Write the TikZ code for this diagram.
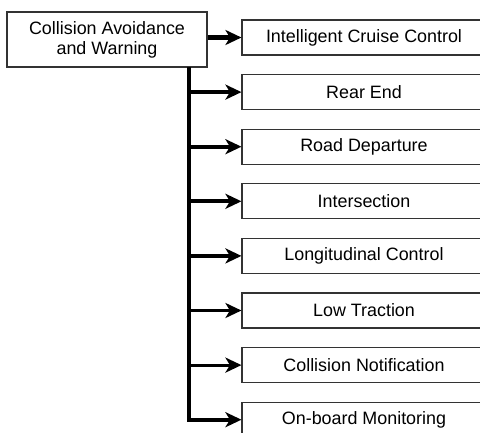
\documentclass[tikz,border=0pt]{standalone}
\usepackage{fontspec}
\setmainfont{Liberation Sans}
\usetikzlibrary{arrows.meta}
\begin{document}
\begin{tikzpicture}[x=1pt,y=-1pt,
  box/.style={draw=black!80, line width=1.1pt, fill=white, minimum width=244pt, minimum height=35pt, inner sep=0pt, font=\fontsize{17.9}{20}\selectfont},
  mainbox/.style={draw=black!80, line width=1.1pt, fill=white, minimum width=200pt, minimum height=55pt, inner sep=0pt, align=center, font=\fontsize{17.9}{20}\selectfont},
  thick arrow/.style={line width=4.2pt, -{Stealth[length=16pt, width=15pt, inset=4.5pt]}},
  thin arrow/.style={line width=3.2pt, -{Stealth[length=16pt, width=15pt, inset=4.5pt]}},
  trunk/.style={line width=3.6pt}]
\clip (0,0) rectangle (480,432);
\fill[white] (0,0) rectangle (480,432);
\node[mainbox] (m) at (107,39.5) {Collision Avoidance\\and Warning};
\node[box] (b1) at (364,37.5) {Intelligent Cruise Control};
\node[box] (b2) at (364,92.1) {Rear End};
\node[box] (b3) at (364,146.7) {Road Departure};
\node[box] (b4) at (364,201.3) {Intersection};
\node[box] (b5) at (364,255.9) {Longitudinal Control};
\node[box] (b6) at (364,310.5) {Low Traction};
\node[box] (b7) at (364,365.1) {Collision Notification};
\node[box] (b8) at (364,419.7) {On-board Monitoring};
\coordinate (t) at (189,67);
\draw[thick arrow] (m.east |- b1.west) -- (b1.west);
\draw[trunk, line join=miter] (t) |- ([xshift=-12pt]b8.west);
\draw[thick arrow] (t |- b2.west) -- (b2.west);
\draw[thick arrow] (t |- b3.west) -- (b3.west);
\draw[thick arrow] (t |- b4.west) -- (b4.west);
\draw[thin arrow] (t |- b5.west) -- (b5.west);
\draw[thin arrow] (t |- b6.west) -- (b6.west);
\draw[thin arrow] (t |- b7.west) -- (b7.west);
\draw[thin arrow] (t |- b8.west) -- (b8.west);
\end{tikzpicture}
\end{document}
